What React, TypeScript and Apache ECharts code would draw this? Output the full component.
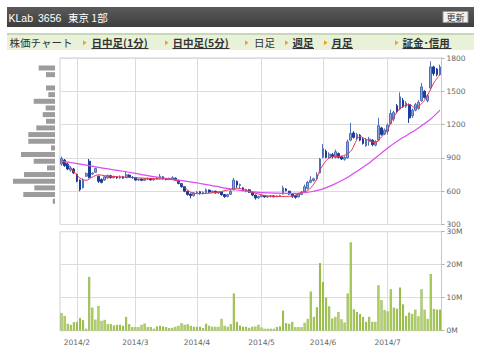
import React, { useEffect, useRef } from 'react';
import * as echarts from 'echarts';

// Trading days per month (2014)
const JAN_DAYS = [27, 28, 29, 30, 31];
const FEB_DAYS = [3, 4, 5, 6, 7, 10, 12, 13, 14, 17, 18, 19, 20, 21, 24, 25, 26, 27, 28];
const MAR_DAYS = [3, 4, 5, 6, 7, 10, 11, 12, 13, 14, 17, 18, 19, 20, 24, 25, 26, 27, 28, 31];
const APR_DAYS = [1, 2, 3, 4, 7, 8, 9, 10, 11, 14, 15, 16, 17, 18, 21, 22, 23, 24, 25, 28, 30];
const MAY_DAYS = [1, 2, 7, 8, 9, 12, 13, 14, 15, 16, 19, 20, 21, 22, 23, 26, 27, 28, 29, 30];
const JUN_DAYS = [2, 3, 4, 5, 6, 9, 10, 11, 12, 13, 16, 17, 18, 19, 20, 23, 24, 25, 26, 27, 30];
const JUL_DAYS = [1, 2, 3, 4, 7, 8, 9, 10, 11, 14, 15, 16, 17, 18, 22, 23, 24, 25];
const MONTHS: [number, number[]][] = [[1, JAN_DAYS], [2, FEB_DAYS], [3, MAR_DAYS], [4, APR_DAYS], [5, MAY_DAYS], [6, JUN_DAYS], [7, JUL_DAYS]];

const DATES: string[] = [];
const MONTH_START_IDX: number[] = [];
MONTHS.forEach(([m, days]) => {
  days.forEach((d, k) => {
    if (k === 0 && m !== 1) MONTH_START_IDX.push(DATES.length);
    DATES.push(`2014/${String(m).padStart(2, '0')}/${String(d).padStart(2, '0')}`);
  });
});

const OPEN = [845, 880, 845, 790, 800, 750, 700, 630, 735, 870, 755, 770, 735, 705, 700, 720, 740, 722, 728, 720, 730, 722, 745, 725,
  722, 700, 710, 698, 708, 712, 702, 708, 712, 730, 712, 705, 708, 718, 698, 668, 640, 598, 575, 560,
  585, 595, 578, 588, 610, 592, 600, 585, 592, 570, 552, 572, 612, 690, 652, 630, 605, 612, 588, 565, 540,
  552, 560, 548, 552, 558, 550, 554, 575, 620, 600, 575, 560, 548, 570, 595, 625, 680, 695, 710, 765,
  905, 960, 900, 930, 905, 940, 910, 888, 900, 1060, 1125, 1080, 1105, 1070, 1010, 1050, 1060, 1015, 1060, 1170, 1115,
  1140, 1210, 1250, 1370, 1340, 1420, 1365, 1380, 1280, 1330, 1345, 1415, 1500, 1415, 1530, 1720, 1700, 1650];
const CLOSE = [895, 830, 800, 810, 765, 690, 615, 700, 760, 725, 762, 805, 690, 680, 730, 740, 722, 730, 720, 728, 718, 748, 725, 722,
  700, 708, 698, 710, 712, 702, 710, 718, 735, 712, 705, 715, 722, 700, 670, 640, 600, 570, 560, 585,
  592, 578, 590, 612, 592, 600, 585, 594, 568, 552, 570, 600, 700, 655, 660, 605, 615, 590, 565, 540, 552,
  560, 548, 555, 558, 550, 556, 560, 630, 605, 575, 555, 545, 575, 590, 640, 680, 700, 712, 750, 890,
  985, 905, 935, 910, 955, 905, 890, 905, 1045, 1120, 1085, 1110, 1060, 1030, 1065, 1070, 1020, 1050, 1190, 1110, 1150,
  1195, 1300, 1310, 1315, 1450, 1360, 1395, 1260, 1330, 1380, 1400, 1540, 1445, 1460, 1720, 1660, 1650, 1720];
const LOW = [830, 820, 790, 775, 755, 680, 600, 625, 730, 715, 748, 765, 675, 670, 695, 712, 715, 715, 712, 712, 710, 718, 720, 712,
  695, 692, 690, 692, 700, 695, 696, 702, 705, 705, 698, 700, 702, 692, 662, 632, 592, 560, 535, 552,
  575, 570, 572, 582, 585, 585, 578, 576, 560, 540, 545, 568, 608, 630, 620, 600, 590, 585, 555, 525, 530,
  545, 542, 540, 545, 544, 545, 548, 570, 598, 568, 540, 532, 545, 565, 590, 615, 672, 688, 700, 760,
  895, 895, 890, 895, 895, 895, 880, 875, 895, 1050, 1075, 1060, 1050, 1020, 1000, 1010, 1005, 1005, 1050, 1100, 1105,
  1110, 1200, 1230, 1305, 1330, 1350, 1350, 1215, 1260, 1320, 1335, 1405, 1435, 1400, 1510, 1640, 1635, 1640];
const HIGH = [912, 890, 860, 825, 810, 760, 705, 715, 768, 890, 770, 812, 740, 715, 738, 750, 748, 740, 735, 742, 738, 780, 752, 735,
  728, 715, 716, 718, 722, 718, 716, 728, 755, 735, 718, 722, 735, 722, 702, 672, 645, 605, 582, 590,
  600, 600, 598, 625, 615, 606, 605, 600, 596, 575, 576, 610, 720, 695, 668, 635, 622, 620, 592, 570, 560,
  566, 565, 560, 565, 562, 562, 568, 650, 628, 604, 580, 565, 585, 600, 660, 690, 735, 722, 770, 900,
  1025, 975, 950, 945, 975, 948, 920, 915, 1065, 1215, 1140, 1125, 1115, 1085, 1080, 1090, 1070, 1060, 1260, 1180, 1165,
  1210, 1335, 1325, 1385, 1490, 1440, 1410, 1390, 1345, 1395, 1420, 1575, 1510, 1475, 1770, 1730, 1710, 1740];

// Volume in millions of shares
const VOLUME = [5.4, 4.5, 2.1, 1.8, 2.6, 2.7, 3.9, 3.2, 0.6, 16.3, 7.0, 3.4, 7.5, 3.0, 3.3, 2.0, 2.0, 1.6, 1.8, 1.8, 1.5, 4.2, 2.0, 1.1,
  1.1, 1.1, 1.8, 2.2, 1.1, 1.1, 0.6, 1.3, 1.5, 1.3, 1.1, 0.8, 0.9, 1.2, 1.5, 2.3, 1.8, 2.0, 1.5, 1.2,
  1.2, 1.2, 0.8, 2.1, 1.5, 1.2, 1.2, 1.2, 3.6, 1.5, 1.2, 2.0, 11.3, 2.7, 1.6, 1.2, 1.2, 0.9, 1.2, 1.3, 1.8,
  1.0, 0.6, 0.6, 0.6, 0.6, 1.1, 1.3, 6.1, 2.3, 2.1, 2.7, 1.1, 1.1, 1.1, 2.4, 3.6, 11.9, 4.2, 7.1, 20.5,
  14.8, 10.0, 7.4, 3.7, 4.2, 5.7, 3.5, 2.5, 11.3, 26.8, 6.5, 5.7, 5.1, 4.2, 2.7, 4.2, 2.7, 2.7, 13.8, 9.3, 6.3,
  5.9, 12.6, 7.0, 6.7, 13.1, 8.0, 4.5, 5.5, 5.1, 6.4, 4.4, 12.6, 6.4, 3.6, 17.2, 6.6, 6.4, 6.4];

// Moving averages read at points [day index, price]
const MA_SHORT: [number, number][] = [[0, 880], [2, 842], [4, 775], [6, 718], [8, 698], [10, 728], [12, 748], [14, 740], [17, 732], [20, 728],
  [25, 720], [31, 712], [36, 705], [38, 685], [40, 635], [42, 590], [44, 578], [47, 580], [51, 592], [54, 610], [57, 628], [60, 608],
  [64, 575], [67, 556], [71, 553], [75, 556], [78, 590], [80, 605], [82, 665], [83, 715], [84, 790], [86, 875], [88, 912], [91, 915],
  [94, 960], [97, 1092], [99, 1068], [102, 1036], [104, 1090], [106, 1150], [107, 1220], [110, 1345], [113, 1380], [115, 1352],
  [118, 1420], [121, 1575], [123, 1650]];
const MA_LONG: [number, number][] = [[0, 872], [9, 830], [14, 805], [20, 780], [26, 750], [32, 722], [38, 700], [44, 675], [50, 645],
  [55, 620], [60, 600], [65, 588], [70, 582], [75, 580], [78, 583], [82, 600], [84, 612], [88, 655], [92, 710], [96, 780], [100, 855],
  [104, 945], [108, 1030], [112, 1100], [116, 1170], [120, 1250], [123, 1330]];

// Volume-by-price profile
const PROFILE_PRICES = ['510', '570', '630', '690', '750', '810', '870', '930', '990', '1050', '1110', '1170', '1230', '1290', '1350', '1410', '1470', '1530', '1590', '1650', '1710'];
const PROFILE_VOLUMES = [2.3, 31.7, 20.7, 42, 31, 8, 21.3, 34, 4, 26.7, 26.7, 18.7, 9, 12.3, 9.3, 21.3, 6.7, 9, 0, 9, 16.3];

const PRICE_TICKS = { min: 300, max: 1800, interval: 300 };
const VOLUME_TICKS = { min: 0, max: 30, interval: 10 };

const isMonthStart = (idx: number) => MONTH_START_IDX.includes(idx);
const monthLabel = (v: string) => { const p = v.split('/'); return `${p[0]}/${Number(p[1])}`; };

const AXIS_FONT = { color: '#666', fontSize: 7.5, fontFamily: 'DejaVu Sans' };
const GRID_LINE = { color: '#dcdcdc', width: 1 };

export default function App() {
  const ref = useRef<HTMLDivElement>(null);
  useEffect(() => {
    if (!ref.current) return;
    const chart = echarts.init(ref.current, undefined, { renderer: 'svg' });
    const candles = DATES.map((_, i) => [OPEN[i], CLOSE[i], LOW[i], HIGH[i]]);
    const tabFont = { fontSize: 10.5, fontFamily: '"Noto Sans CJK JP"' };
    const arrow = (x: number) => ({ type: 'polygon', shape: { points: [[x, 40.3], [x, 45.3], [x + 3.5, 42.8]] }, style: { fill: '#f0a01e' } });
    const tab = (x: number, text: string, bold: boolean, underlineWidth: number) => {
      const els: any[] = [{ type: 'text', x, y: 42.5, style: { text, fill: '#333', ...tabFont, fontWeight: bold ? 'bold' : 'normal', verticalAlign: 'middle', align: 'left' } }];
      if (underlineWidth > 0) els.push({ type: 'line', shape: { x1: x, y1: 48.5, x2: x + underlineWidth, y2: 48.5 }, style: { stroke: '#333', lineWidth: 1 } });
      return els;
    };
    const headFont = { fill: '#fff', fontSize: 10.5, fontFamily: '"Liberation Sans"', verticalAlign: 'middle' };
    const option: any = {
      animation: false,
      backgroundColor: '#fff',
      graphic: [
        { type: 'rect', shape: { x: 7, y: 7, width: 467, height: 20 }, style: { fill: new echarts.graphic.LinearGradient(0, 0, 0, 1, [{ offset: 0, color: '#5a5a5a' }, { offset: 1, color: '#3e3e3e' }]) } },
        { type: 'text', x: 8.5, y: 17.5, style: { text: 'KLab', ...headFont } },
        { type: 'text', x: 38, y: 17.5, style: { text: '3656', ...headFont } },
        { type: 'text', x: 68, y: 17.5, style: { text: '東京 1部', ...headFont, fontSize: 10.5, fontFamily: '"Noto Sans CJK JP"' } },
        { type: 'rect', shape: { x: 443, y: 11.5, width: 25, height: 11 }, style: { fill: '#f2f2f2', stroke: '#999', lineWidth: 1 } },
        { type: 'text', x: 455.5, y: 17.2, style: { text: '更新', fill: '#333', fontSize: 9, fontFamily: '"Noto Sans CJK JP"', verticalAlign: 'middle', align: 'center' } },
        { type: 'rect', shape: { x: 7, y: 33, width: 467, height: 17 }, style: { fill: '#e8f2d8' } },
        { type: 'line', shape: { x1: 7, y1: 34, x2: 474, y2: 34 }, style: { stroke: '#c9d8b4', lineWidth: 2 } },
        ...tab(9.5, '株価チャート', false, 0),
        arrow(83), ...tab(91.5, '日中足(1分)', true, 57),
        arrow(165), ...tab(172.5, '日中足(5分)', true, 57),
        arrow(245), ...tab(254, '日足', false, 0),
        arrow(285), ...tab(292.5, '週足', true, 21.5),
        arrow(324), ...tab(331.5, '月足', true, 21.5),
        arrow(395), ...tab(402.5, '証金･信用', true, 49),
      ],
      grid: [
        { left: 60, top: 58, width: 381.5, height: 166.5, show: true, borderColor: '#cfcfcf', borderWidth: 1 },
        { left: 60, top: 231.7, width: 381.5, height: 99, show: true, borderColor: '#cfcfcf', borderWidth: 1 },
        { left: 13, top: 64.66, width: 42, height: 139.86 },
      ],
      xAxis: [
        {
          type: 'category', gridIndex: 0, data: DATES, boundaryGap: true,
          axisLine: { show: false }, axisTick: { show: false }, axisLabel: { show: false },
          splitLine: { show: true, interval: (i: number) => isMonthStart(i), alignWithLabel: true, lineStyle: GRID_LINE },
        },
        {
          type: 'category', gridIndex: 1, data: DATES, boundaryGap: true,
          axisLine: { show: false }, axisTick: { show: false },
          axisLabel: { ...AXIS_FONT, interval: (i: number) => isMonthStart(i), formatter: monthLabel, margin: 8 },
          splitLine: { show: true, interval: (i: number) => isMonthStart(i), alignWithLabel: true, lineStyle: GRID_LINE },
        },
        { type: 'value', gridIndex: 2, inverse: true, min: 0, max: 42, show: false },
      ],
      yAxis: [
        {
          type: 'value', gridIndex: 0, position: 'right', ...PRICE_TICKS,
          axisLine: { show: true, lineStyle: { color: '#c8c8c8' } },
          axisTick: { show: true, length: 3, lineStyle: { color: '#b0b0b0' } },
          axisLabel: { ...AXIS_FONT, margin: 5, formatter: (v: number) => String(v) },
          splitLine: { show: true, lineStyle: GRID_LINE },
        },
        {
          type: 'value', gridIndex: 1, position: 'right', ...VOLUME_TICKS,
          axisLine: { show: true, lineStyle: { color: '#c8c8c8' } },
          axisTick: { show: true, length: 3, lineStyle: { color: '#b0b0b0' } },
          axisLabel: { ...AXIS_FONT, margin: 5, formatter: (v: number) => `${v}M` },
          splitLine: { show: true, lineStyle: GRID_LINE },
        },
        { type: 'category', gridIndex: 2, data: PROFILE_PRICES, show: false },
      ],
      series: [
        {
          type: 'bar', xAxisIndex: 2, yAxisIndex: 2, data: PROFILE_VOLUMES, barWidth: 5,
          itemStyle: { color: '#9c9c9c' }, silent: true,
        },
        {
          type: 'candlestick', xAxisIndex: 0, yAxisIndex: 0, data: candles, barWidth: '72%',
          itemStyle: { color: '#8ea6d6', color0: '#1d3b98', borderColor: '#4f70b8', borderColor0: '#1d3b98', borderWidth: 1 },
        },
        {
          type: 'line', xAxisIndex: 0, yAxisIndex: 0, data: MA_LONG.map(([i, v]) => [DATES[i], v]),
          smooth: 0.3, symbol: 'none', lineStyle: { color: '#d94cf0', width: 1.2 }, z: 3,
        },
        {
          type: 'line', xAxisIndex: 0, yAxisIndex: 0, data: MA_SHORT.map(([i, v]) => [DATES[i], v]),
          smooth: 0.3, symbol: 'none', lineStyle: { color: '#f0344a', width: 1 }, z: 4,
        },
        {
          type: 'bar', xAxisIndex: 1, yAxisIndex: 1, data: VOLUME, barWidth: '66%',
          itemStyle: { color: new echarts.graphic.LinearGradient(0, 0, 1, 0, [{ offset: 0, color: '#7ca52a' }, { offset: 0.5, color: '#b4d466' }, { offset: 1, color: '#7ca52a' }]) },
        },
      ],
    };
    chart.setOption(option);
    return () => chart.dispose();
  }, []);
  return <div ref={ref} style={{ position: 'absolute', left: 0, top: 0, width: 480, height: 357 }} />;
}
